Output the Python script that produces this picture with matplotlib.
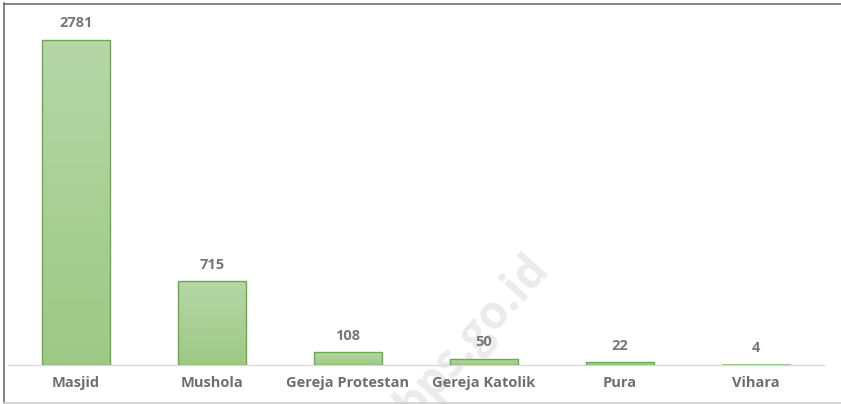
import numpy as np
import matplotlib.pyplot as plt
from matplotlib.colors import LinearSegmentedColormap
from matplotlib.lines import Line2D

categories = ["Masjid", "Mushola", "Gereja Protestan", "Gereja Katolik", "Pura", "Vihara"]
values = [2781, 715, 108, 50, 22, 4]

plt.rcParams['font.family'] = ['Open Sans', 'DejaVu Sans']

W, H = 841, 404
fig = plt.figure(figsize=(W / 100, H / 100), dpi=100)
ax = fig.add_axes([8 / W, (H - 365) / H, 816 / W, 355 / H])
ax.patch.set_alpha(0)

x = np.arange(len(categories))
ymax = 2781 * 355 / 325
ax.set_xlim(-0.5, len(categories) - 0.5)
ax.set_ylim(0, ymax)

# gradient fill, light at top, darker at bottom
cmap = LinearSegmentedColormap.from_list("g", ["#9dc985", "#b6d6a7"])
grad = np.linspace(0, 1, 256).reshape(-1, 1)
bw = 0.505
bars = ax.bar(x, values, width=bw, color="none", edgecolor="#6aab48", linewidth=1.0, zorder=3)
for b in bars:
    x0, y0 = b.get_x(), b.get_y()
    ax.imshow(grad, extent=[x0, x0 + b.get_width(), y0, y0 + b.get_height()],
              origin="lower", cmap=cmap, aspect="auto", zorder=2)

for xi, v in zip(x, values):
    ax.annotate(str(v), (xi, v), xytext=(0, 7), textcoords="offset points",
                ha="center", va="bottom", fontsize=10.5, fontweight="bold", color="#777777")

ax.set_xticks(x)
ax.set_xticklabels(categories, fontsize=10.5, fontweight="bold", color="#6f6f6f")
ax.tick_params(axis="x", length=0, pad=8)
ax.set_yticks([])
for s in ["top", "right", "left"]:
    ax.spines[s].set_visible(False)
ax.spines["bottom"].set_color("#d9d9d9")
ax.spines["bottom"].set_linewidth(1.0)
ax.spines["bottom"].set_zorder(1)
ax.set_xlim(-0.5, len(categories) - 0.5)

# watermark (behind everything)
fig.text(472 / W, 1 - 336 / H, "bps.go.id", rotation=48, fontsize=33, fontweight="bold",
         color="#ebebeb", ha="center", va="center", zorder=-1)

# frame
fig.add_artist(Line2D([3.5 / W, 3.5 / W], [0, 1 - 3 / H], color="#6d6d6d", lw=1.2))
fig.add_artist(Line2D([3.5 / W, 1], [1 - 3.5 / H, 1 - 3.5 / H], color="#6d6d6d", lw=1.2))
fig.add_artist(Line2D([3.5 / W, 1], [1.5 / H, 1.5 / H], color="#d0d0d0", lw=1.2))

fig.savefig("out.png", dpi=100)
